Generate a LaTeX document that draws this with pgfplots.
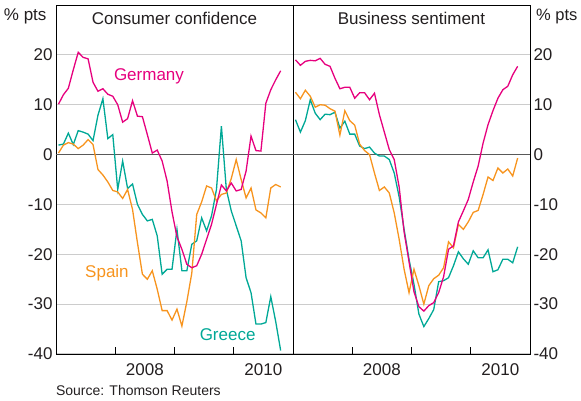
\documentclass[border=0pt]{standalone}
\usepackage{fontspec}
\setmainfont{Liberation Sans}
\usepackage{pgfplots}
\usepackage{pgfplotstable}
\pgfplotsset{compat=1.18}
\definecolor{ger}{RGB}{230,0,126}
\definecolor{spa}{RGB}{247,148,30}
\definecolor{gre}{RGB}{0,168,150}
\definecolor{txt}{RGB}{35,31,32}

% month index 0 = Jan 2007 ... 45 = Oct 2010
\pgfplotstableread{
i ger spa gre
0 10.1 0.3 1.9
1 12.0 1.9 2.1
2 13.3 2.4 4.3
3 17.0 2.1 2.0
4 20.5 1.2 4.8
5 19.5 1.9 4.5
6 19.2 3.0 4.1
7 14.5 2.0 2.8
8 12.7 -3.0 7.9
9 13.2 -4.1 11.2
10 12.1 -5.5 3.2
11 11.7 -7.2 4.0
12 10.0 -7.5 -7.0
13 6.5 -8.8 -1.3
14 7.2 -7.0 -6.8
15 10.8 -11.0 -5.9
16 7.7 -17.7 -10.0
17 7.6 -24.0 -12.0
18 4.0 -25.0 -13.3
19 0.3 -23.3 -13.0
20 0.9 -27.0 -16.3
21 -1.3 -31.3 -24.0
22 -5.3 -31.3 -23.0
23 -11.5 -33.2 -23.0
24 -16.5 -31.0 -15.0
25 -19.0 -34.4 -23.3
26 -22.0 -29.5 -23.3
27 -22.7 -23.8 -18.0
28 -22.3 -12.0 -17.3
29 -20.0 -9.5 -12.7
30 -17.0 -6.3 -15.3
31 -14.0 -6.7 -12.3
32 -10.0 -9.3 -7.0
33 -6.1 -8.0 5.7
34 -7.3 -7.7 -7.0
35 -5.7 -4.8 -11.3
36 -7.3 -1.0 -14.3
37 -7.0 -5.0 -17.3
38 -3.3 -8.7 -24.7
39 3.7 -6.7 -27.7
40 0.8 -11.1 -34.0
41 0.7 -11.7 -34.0
42 10.3 -12.7 -33.7
43 13.0 -6.7 -28.5
44 15.0 -6.0 -33.5
45 16.8 -6.5 -39.3
}\consumer

\pgfplotstableread{
i ger spa gre
0 19.0 12.5 7.0
1 17.9 11.2 4.5
2 18.7 12.9 6.8
3 18.9 11.7 11.0
4 18.8 9.5 8.3
5 19.3 10.0 7.0
6 18.1 9.9 8.1
7 17.7 9.2 8.0
8 15.3 8.7 8.5
9 13.2 3.9 5.3
10 13.5 8.8 6.7
11 13.5 6.8 4.1
12 11.3 5.9 4.1
13 12.4 2.1 1.7
14 12.4 0.8 1.2
15 11.0 0.0 1.5
16 12.3 -3.7 0.3
17 8.0 -7.2 -0.3
18 4.5 -6.5 -0.3
19 1.0 -7.7 -1.0
20 -1.0 -11.7 -3.7
21 -6.5 -17.0 -8.5
22 -15.5 -23.0 -15.0
23 -21.5 -27.7 -21.0
24 -27.5 -23.0 -26.0
25 -30.5 -26.3 -32.0
26 -31.4 -30.0 -34.5
27 -30.3 -26.3 -32.9
28 -29.7 -24.9 -31.1
29 -27.7 -24.2 -25.5
30 -24.5 -22.7 -25.3
31 -19.0 -17.5 -24.7
32 -18.3 -18.7 -22.3
33 -13.5 -14.0 -19.5
34 -11.3 -15.0 -20.9
35 -9.0 -13.5 -22.0
36 -5.5 -11.6 -19.3
37 -2.3 -11.2 -20.7
38 2.3 -8.0 -20.7
39 6.0 -4.5 -19.1
40 8.8 -5.2 -23.5
41 11.3 -2.7 -23.1
42 13.0 -3.7 -21.0
43 13.7 -2.9 -21.0
44 16.0 -4.3 -21.7
45 17.7 -0.7 -18.5
}\business

\pgfplotsset{
  panel/.style={
    scale only axis, width=237pt, height=349pt,
    xmin=-0.5, xmax=47.5, ymin=-40, ymax=30,
    clip=false,
    ytick={-40,-30,...,20},
    xtick={11.5,23.5,35.5}, xticklabels={},
    extra x ticks={17.5,41.5}, extra x tick labels={2008,2010},
    extra x tick style={major tick length=0pt},
    xtick pos=lower, tick align=inside, major tick length=6.5pt,
    ytick style={draw=none},
    xtick style={line width=0.8pt, black},
    ymajorgrids, grid style={color=black!20, line width=1.1pt},
    axis line style={line width=0.9pt, black},
    /pgf/number format/assume math mode=true,
    tick label style={font=\fontsize{17}{20}\selectfont, text=txt},
    xticklabel style={anchor=base, yshift=-21.5pt},
    every axis plot/.append style={line width=1.3pt, mark=none},
  }
}

\begin{document}
\begin{tikzpicture}
\useasboundingbox (-56pt,-47pt) rectangle (525pt,354pt);
\begin{axis}[panel, at={(0pt,0pt)}, anchor=south west, yticklabel pos=left]
  \draw[line width=1.2pt, black!65] (axis cs:-0.5,0) -- (axis cs:47.5,0);
  \addplot[gre] table[x=i, y=gre] {\consumer};
  \addplot[spa] table[x=i, y=spa] {\consumer};
  \addplot[ger] table[x=i, y=ger] {\consumer};
  \node[anchor=base, yshift=-20pt, font=\fontsize{17}{20}\selectfont, text=txt] at (rel axis cs:0.5,1) {Consumer confidence};
  \node[anchor=base east, xshift=-6pt, yshift=-16pt, font=\fontsize{17}{20}\selectfont, text=txt] at (rel axis cs:0,1) {\% pts};
  \node[anchor=base, font=\fontsize{17}{20}\selectfont, text=ger] at (axis cs:18.33,14.8) {Germany};
  \node[anchor=base, font=\fontsize{17}{20}\selectfont, text=spa] at (axis cs:9.82,-24.6) {Spain};
  \node[anchor=base, font=\fontsize{17}{20}\selectfont, text=gre] at (axis cs:34.26,-37.3) {Greece};
  \node[anchor=base west, xshift=-3.5pt, yshift=-42pt, font=\fontsize{14}{16}\selectfont, text=txt] at (rel axis cs:0,0) {Source: Thomson Reuters};
\end{axis}
\begin{axis}[panel, at={(237pt,0pt)}, anchor=south west, yticklabel pos=right]
  \draw[line width=1.2pt, black!65] (axis cs:-0.5,0) -- (axis cs:47.5,0);
  \addplot[gre] table[x=i, y=gre] {\business};
  \addplot[spa] table[x=i, y=spa] {\business};
  \addplot[ger] table[x=i, y=ger] {\business};
  \node[anchor=base, yshift=-20pt, font=\fontsize{17}{20}\selectfont, text=txt] at (rel axis cs:0.5,1) {Business sentiment};
  \node[anchor=base west, inner sep=0pt, xshift=6pt, yshift=-16pt, font=\fontsize{16.5}{20}\selectfont, text=txt] at (rel axis cs:1,1) {\% pts};
\end{axis}
\end{tikzpicture}
\end{document}
